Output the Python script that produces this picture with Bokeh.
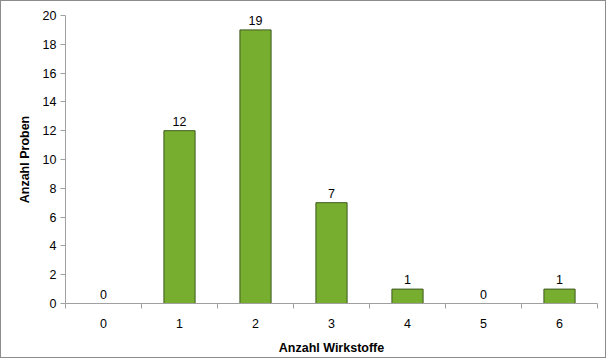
from bokeh.plotting import figure
from bokeh.models import Range1d, FixedTicker, ColumnDataSource
from bokeh.embed import file_html
from bokeh.resources import INLINE
from bokeh.core.properties import value

categories = ["0", "1", "2", "3", "4", "5", "6"]
counts = [0, 12, 19, 7, 1, 0, 1]
y_ticks = [0, 2, 4, 6, 8, 10, 12, 14, 16, 18, 20]

xs = list(range(len(categories)))
src = ColumnDataSource(dict(x=xs, top=counts, lab=[str(c) for c in counts]))

p = figure(width=606, height=358, output_backend="svg", toolbar_location=None,
           x_range=Range1d(-0.5, len(categories) - 0.5), y_range=Range1d(0, 20),
           min_border_left=64, min_border_right=10, min_border_top=14, min_border_bottom=56)
p.styles = {"border": "1px solid #8c8c8c"}
p.outline_line_color = None
p.xgrid.grid_line_color = None
p.ygrid.grid_line_color = None
p.background_fill_color = "white"
p.border_fill_color = "white"

p.vbar(x="x", top="top", width=0.41, bottom=0, source=src,
       fill_color="#77AE2F", line_color="#3D5A1E", line_width=1)
p.text(x="x", y="top", text="lab", source=src, text_align="center", text_baseline="bottom",
       y_offset=-5, text_font=value("Liberation Sans"), text_font_size="12.5px", text_color="#000000")

font = "Liberation Sans"
# x axis
p.xaxis.ticker = FixedTicker(ticks=xs, minor_ticks=[i - 0.5 for i in range(len(categories) + 1)])
p.xaxis.major_label_overrides = {i: c for i, c in enumerate(categories)}
p.xaxis.major_tick_out = 0
p.xaxis.major_tick_in = 0
p.xaxis.minor_tick_out = 5
p.xaxis.minor_tick_in = 0
p.xaxis.minor_tick_line_color = "#a0a0a0"
p.xaxis.axis_line_color = "#a0a0a0"
p.xaxis.major_label_standoff = 10
p.xaxis.axis_label = "Anzahl Wirkstoffe"
p.xaxis.axis_label_standoff = 10

# y axis
p.yaxis.ticker = FixedTicker(ticks=y_ticks, minor_ticks=[])
p.yaxis.major_tick_out = 5
p.yaxis.major_tick_in = 0
p.yaxis.major_tick_line_color = "#a0a0a0"
p.yaxis.axis_line_color = "#a0a0a0"
p.yaxis.major_label_standoff = 4
p.yaxis.axis_label = "Anzahl Proben"
p.yaxis.axis_label_standoff = 8

for ax in (p.xaxis[0], p.yaxis[0]):
    ax.major_label_text_font = font
    ax.major_label_text_font_size = "12.5px"
    ax.major_label_text_color = "#000000"
    ax.axis_label_text_font = font
    ax.axis_label_text_font_size = "12.5px"
    ax.axis_label_text_font_style = "bold"
    ax.axis_label_text_color = "#000000"

open("out.html", "w").write(file_html(p, INLINE))
